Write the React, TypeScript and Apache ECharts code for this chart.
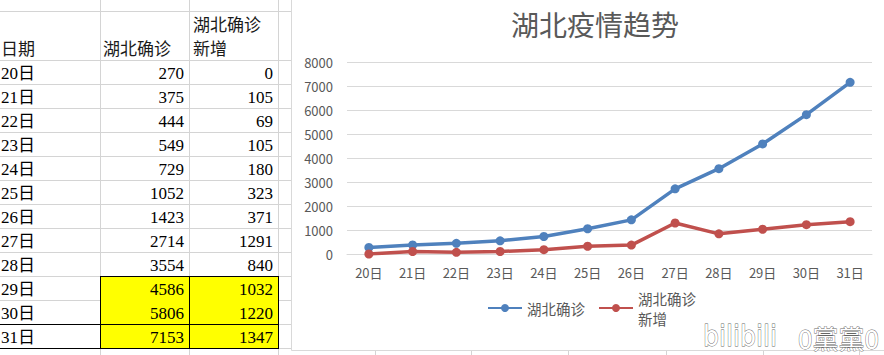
import React, { useEffect, useRef } from "react";
import * as echarts from "echarts";

const dates = ["20日", "21日", "22日", "23日", "24日", "25日", "26日", "27日", "28日", "29日", "30日", "31日"];
const confirmed = [270, 375, 444, 549, 729, 1052, 1423, 2714, 3554, 4586, 5806, 7153];
const newCases = [0, 105, 69, 105, 180, 323, 371, 1291, 840, 1032, 1220, 1347];
const seriesNames = ["湖北确诊", "湖北确诊新增"];
const tableHeaders = ["日期", "湖北确诊", "湖北确诊\n新增"];
const chartTitle = "湖北疫情趋势";
const yTicks = { min: 0, max: 8000, interval: 1000 };
const highlightedDates = ["29日", "30日", "31日"];
const watermark = ["bilibili", "0黨黨0"];

const SERIF = "'Liberation Serif','Noto Sans CJK SC',serif";
const SANS = "'Noto Sans CJK SC','Noto Sans',sans-serif";

function buildTableGraphics() {
  const els: any[] = [];
  const gridColor = "#d4d4d4";
  const rowTop = 60;
  const rowH = 24;
  const n = dates.length;
  const hy = [11, 60];
  for (let i = 1; i <= n; i++) hy.push(rowTop + i * rowH);
  hy.forEach((y) =>
    els.push({ type: "line", shape: { x1: 0, y1: y + 0.5, x2: 292, y2: y + 0.5 }, style: { stroke: gridColor, lineWidth: 1 } })
  );
  [100, 189, 278].forEach((x) =>
    els.push({ type: "line", shape: { x1: x + 0.5, y1: 0, x2: x + 0.5, y2: 355 }, style: { stroke: gridColor, lineWidth: 1 } })
  );
  [375, 471, 568, 666, 763, 859].forEach((x) =>
    els.push({ type: "line", shape: { x1: x + 0.5, y1: 351, x2: x + 0.5, y2: 355 }, style: { stroke: gridColor, lineWidth: 1 } })
  );
  const firstHi = dates.indexOf(highlightedDates[0]);
  const hiTop = rowTop + firstHi * rowH;
  const hiBottom = rowTop + n * rowH;
  els.push({ type: "rect", shape: { x: 100, y: hiTop, width: 178, height: hiBottom - hiTop }, style: { fill: "#ffff00" } });
  const blk = { stroke: "#000", lineWidth: 1 };
  els.push({ type: "line", shape: { x1: 100, y1: hiTop + 0.5, x2: 279, y2: hiTop + 0.5 }, style: blk });
  [100, 189, 278].forEach((x) =>
    els.push({ type: "line", shape: { x1: x + 0.5, y1: hiTop, x2: x + 0.5, y2: hiBottom + 1 }, style: blk })
  );
  const lastTop = rowTop + (n - 1) * rowH;
  els.push({ type: "line", shape: { x1: 0, y1: lastTop + 0.5, x2: 279, y2: lastTop + 0.5 }, style: blk });
  els.push({ type: "line", shape: { x1: 0, y1: hiBottom + 0.5, x2: 279, y2: hiBottom + 0.5 }, style: blk });

  const hStyle = { fill: "#1a1a1a", fontSize: 17, fontFamily: SERIF };
  els.push({ type: "text", x: 1, y: 49, style: { ...hStyle, text: tableHeaders[0], verticalAlign: "middle", align: "left" } });
  els.push({ type: "text", x: 103, y: 49, style: { ...hStyle, text: tableHeaders[1], verticalAlign: "middle", align: "left" } });
  const c3 = tableHeaders[2].split("\n");
  els.push({ type: "text", x: 193, y: 25, style: { ...hStyle, text: c3[0], verticalAlign: "middle", align: "left" } });
  els.push({ type: "text", x: 193, y: 49, style: { ...hStyle, text: c3[1], verticalAlign: "middle", align: "left" } });

  const cStyle = { fill: "#000", fontSize: 17, fontFamily: SERIF, verticalAlign: "middle" };
  dates.forEach((d, i) => {
    const cy = rowTop + i * rowH + 13;
    els.push({ type: "text", x: 1, y: cy, style: { ...cStyle, text: d, align: "left" } });
    els.push({ type: "text", x: 184, y: cy, style: { ...cStyle, text: String(confirmed[i]), align: "right" } });
    els.push({ type: "text", x: 273, y: cy, style: { ...cStyle, text: String(newCases[i]), align: "right" } });
  });

  els.push({ type: "rect", shape: { x: 291.5, y: -2, width: 600, height: 352.5 }, style: { fill: "none", stroke: "#d9d9d9", lineWidth: 1 } });

  els.push({
    type: "text", x: 703, y: 336, z: 100,
    style: { text: watermark[0], fontSize: 28, fontFamily: "'DejaVu Sans Condensed','DejaVu Sans',sans-serif", fill: "#fff", stroke: "#666", lineWidth: 0.8, verticalAlign: "middle", align: "left" },
  });
  els.push({
    type: "text", x: 798, y: 337, z: 100,
    style: { text: watermark[1], fontSize: 26, fontFamily: SANS, fill: "#fff", stroke: "#666", lineWidth: 0.8, verticalAlign: "middle", align: "left" },
  });
  return els;
}

export default function App() {
  const ref = useRef<HTMLDivElement>(null);
  useEffect(() => {
    if (!ref.current) return;
    const chart = echarts.init(ref.current, undefined, { renderer: "svg" });
    const colors = ["#4F81BD", "#C0504D"];
    chart.setOption({
      animation: false,
      backgroundColor: "#fff",
      title: {
        text: chartTitle,
        left: 590,
        top: 5,
        textAlign: "center",
        textStyle: { fontSize: 28, fontWeight: "normal", color: "#595959", fontFamily: SANS },
      },
      legend: {
        left: 482,
        top: 273,
        itemWidth: 34,
        itemHeight: 10,
        itemGap: 13,
        textStyle: { fontSize: 14.5, color: "#595959", fontFamily: SANS, lineHeight: 20 },
        formatter: (name: string) => (name === seriesNames[1] ? "湖北确诊\n新增" : name),
        data: [
          { name: seriesNames[0] },
          { name: seriesNames[1], textStyle: { padding: [20, 0, 0, 0], lineHeight: 20 } },
        ],
      },
      grid: { left: 347, right: 12, top: 62, bottom: 101, containLabel: false },
      xAxis: {
        type: "category",
        data: dates,
        boundaryGap: true,
        axisLine: { show: true, lineStyle: { color: "#d9d9d9" } },
        axisTick: { show: false },
        axisLabel: { color: "#595959", fontSize: 13, fontFamily: SANS, margin: 12 },
      },
      yAxis: {
        type: "value",
        min: yTicks.min,
        max: yTicks.max,
        interval: yTicks.interval,
        axisLine: { show: false },
        axisTick: { show: false },
        splitLine: { lineStyle: { color: "#d9d9d9" } },
        axisLabel: { color: "#595959", fontSize: 13, fontFamily: SANS, margin: 14, formatter: (v: number) => String(v) },
      },
      series: [
        {
          name: seriesNames[0],
          type: "line",
          data: confirmed,
          symbol: "circle",
          symbolSize: 9,
          lineStyle: { width: 3.5, color: colors[0] },
          itemStyle: { color: colors[0] },
        },
        {
          name: seriesNames[1],
          type: "line",
          data: newCases,
          symbol: "circle",
          symbolSize: 9,
          lineStyle: { width: 3.5, color: colors[1] },
          itemStyle: { color: colors[1] },
        },
      ],
      graphic: { elements: buildTableGraphics() },
    });
    return () => chart.dispose();
  }, []);
  return <div ref={ref} style={{ position: "fixed", left: 0, top: 0, width: 884, height: 355 }} />;
}
